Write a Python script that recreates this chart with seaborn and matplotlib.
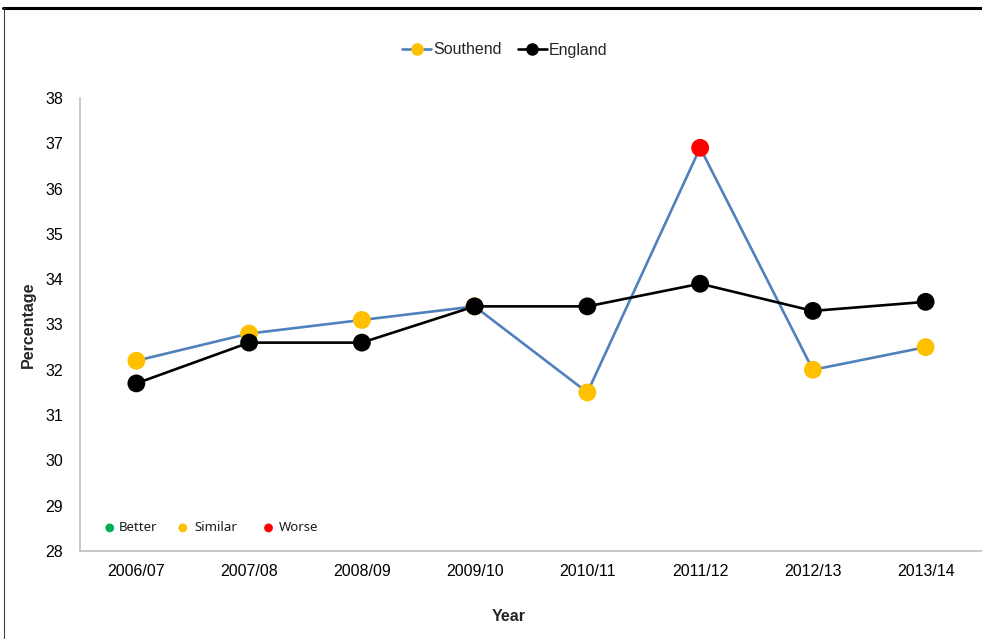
import matplotlib
matplotlib.use("Agg")
import matplotlib.pyplot as plt
from matplotlib.lines import Line2D
import seaborn as sns
import pandas as pd

# Data
years = ["2006/07", "2007/08", "2008/09", "2009/10", "2010/11", "2011/12", "2012/13", "2013/14"]
southend = [32.2, 32.8, 33.1, 33.4, 31.5, 36.9, 32.0, 32.5]
england = [31.7, 32.6, 32.6, 33.4, 33.4, 33.9, 33.3, 33.5]
southend_status = ["Similar", "Similar", "Similar", "Similar", "Similar", "Worse", "Similar", "Similar"]
status_labels = ["Better", "Similar", "Worse"]
y_ticks = [28, 29, 30, 31, 32, 33, 34, 35, 36, 37, 38]

BLUE = "#4F81BD"
status_colors = {"Better": "#00B050", "Similar": "#FFC000", "Worse": "#FF0000"}

sns.set_theme(style="white")
plt.rcParams["font.family"] = ["Liberation Sans", "DejaVu Sans"]

df = pd.DataFrame({"Year": years, "Southend": southend, "England": england,
                   "Status": southend_status})

fig = plt.figure(figsize=(9.82, 6.39), dpi=100)
ax = fig.add_axes([80 / 982, 88 / 639, 902 / 982, 453 / 639])

# Southend: line then RAG-coloured markers
sns.lineplot(data=df, x="Year", y="Southend", color=BLUE, linewidth=1.9, ax=ax,
             sort=False, zorder=2)
sns.scatterplot(data=df, x="Year", y="Southend", hue="Status", palette=status_colors,
                s=165, edgecolor="none", legend=False, ax=ax, zorder=3)
# England: black line with black markers
sns.lineplot(data=df, x="Year", y="England", color="black", linewidth=1.9, ax=ax,
             sort=False, zorder=4)
sns.scatterplot(data=df, x="Year", y="England", color="black", s=165,
                edgecolor="none", legend=False, ax=ax, zorder=5)

ax.set_xlim(-0.5, len(years) - 0.5)
ax.set_ylim(28, 38)
ax.set_yticks(y_ticks)
ax.tick_params(axis="both", length=0, labelsize=11.5, colors="black")
ax.tick_params(axis="y", pad=12)
ax.tick_params(axis="x", pad=9)

for side in ["top", "right"]:
    ax.spines[side].set_visible(False)
for side in ["left", "bottom"]:
    ax.spines[side].set_color("#BFBFBF")
    ax.spines[side].set_linewidth(1.2)

ax.set_xlabel("Year", fontsize=11.5, fontweight="bold")
ax.set_ylabel("Percentage", fontsize=11.5, fontweight="bold")
ax.xaxis.set_label_coords((509 - 80) / 902, (551 - 609) / 453)
ax.yaxis.set_label_coords((36 - 80) / 902, 0.5)

# Series legend
handles = [
    Line2D([], [], color=BLUE, lw=1.9, marker="o", markersize=8,
           markerfacecolor=status_colors["Similar"], markeredgecolor=status_colors["Similar"]),
    Line2D([], [], color="black", lw=1.9, marker="o", markersize=8,
           markerfacecolor="black", markeredgecolor="black"),
]
fig.legend(handles, ["Southend", "England"], loc="center",
           bbox_to_anchor=(505 / 982, 1 - 50 / 639), ncol=2, frameon=False,
           fontsize=11.5, handlelength=1.8, handletextpad=0.15, columnspacing=1.0)

# Comparison key inside the plot area
key_x = [0.033, 0.114, 0.209]
text_gap = [0.010, 0.013, 0.011]
for xk, gap, lab in zip(key_x, text_gap, status_labels):
    ax.scatter([xk], [0.051], transform=ax.transAxes, s=40, color=status_colors[lab],
               edgecolor="none", clip_on=False, zorder=6)
    ax.text(xk + gap, 0.051, lab, transform=ax.transAxes, va="center", ha="left",
            fontsize=9.5, family=["Noto Sans", "DejaVu Sans"], color="#1a1a1a")

# Outer frame: heavy top rule and thin left rule
fig.add_artist(Line2D([3 / 982, 1.0], [1 - 7.5 / 639, 1 - 7.5 / 639],
                      transform=fig.transFigure, color="black", lw=2.2))
fig.add_artist(Line2D([4 / 982, 4 / 982], [0, 1 - 7.5 / 639],
                      transform=fig.transFigure, color="#404040", lw=0.8))

fig.savefig("out.png", dpi=100, facecolor="white")
